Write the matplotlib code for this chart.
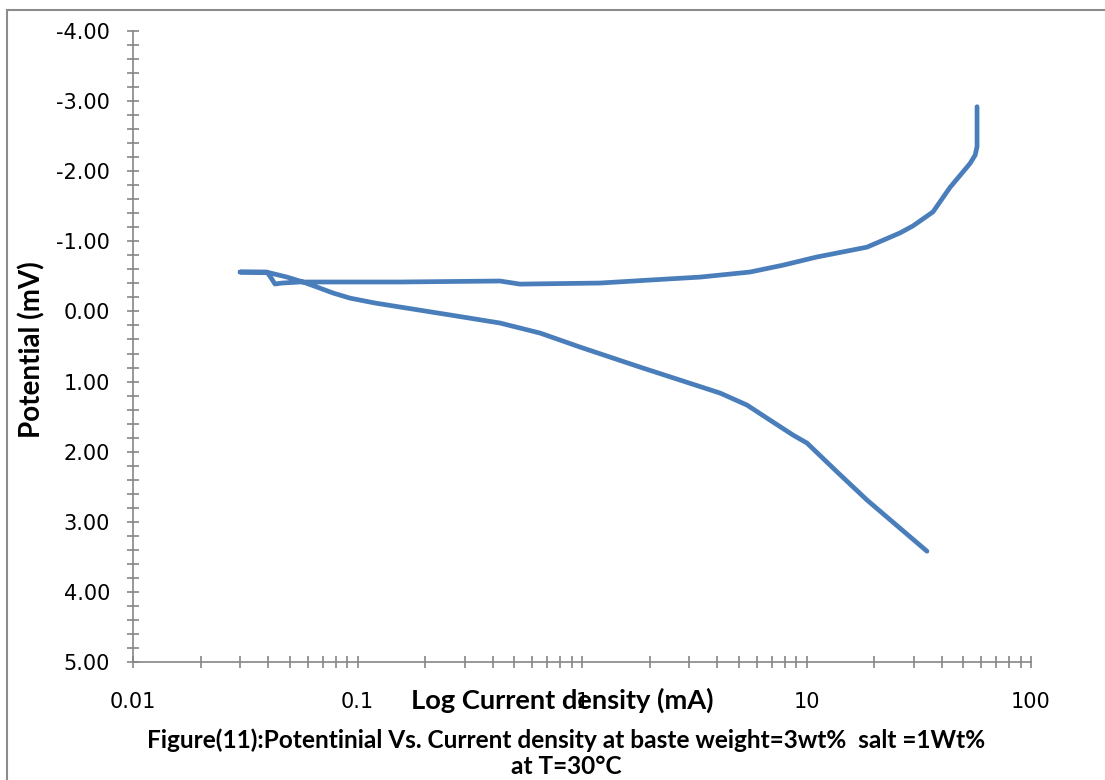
import matplotlib
matplotlib.use('Agg')
import matplotlib.pyplot as plt
from matplotlib.patches import Rectangle
from matplotlib.ticker import FixedLocator, FuncFormatter, LogLocator, NullFormatter

# Polarization curve, traced from the cathodic end (top right) to the anodic end
current = [57.5, 57.5, 56.4, 53.5, 43.6, 36.6, 29.8, 26.1, 18.6, 11.1, 7.86,
           5.6, 3.36, 2.01, 1.20, 0.529, 0.431, 0.1547, 0.0554, 0.0461,
           0.0429, 0.0407, 0.0395, 0.030, 0.0395, 0.0485, 0.0572, 0.066,
           0.0778, 0.0926, 0.1197, 0.1547, 0.258, 0.431, 0.65, 0.98, 1.81,
           4.12, 5.43, 6.88, 8.71, 10.05, 13.7, 18.6, 34.4]
potential = [-2.92, -2.35, -2.23, -2.11, -1.77, -1.42, -1.22, -1.12, -0.917,
             -0.776, -0.66, -0.562, -0.49, -0.448, -0.405, -0.39, -0.434,
             -0.42, -0.42, -0.405, -0.391, -0.505, -0.56, -0.562, -0.56,
             -0.49, -0.42, -0.348, -0.263, -0.19, -0.12, -0.063, 0.05, 0.165,
             0.308, 0.508, 0.793, 1.164, 1.335, 1.55, 1.763, 1.877, 2.29,
             2.69, 3.42]

y_ticks = [-4, -3, -2, -1, 0, 1, 2, 3, 4, 5]
x_ticks = [0.01, 0.1, 1, 10, 100]
x_tick_labels = ['0.01', '0.1', '1', '10', '100']

line_color = '#4A7EBB'
axis_color = '#868686'
label_font = dict(family=['Lato', 'DejaVu Sans'], fontweight='bold')

fig = plt.figure(figsize=(11.05, 7.8), dpi=100)
ax = fig.add_axes([133 / 1105, 118 / 780, 898 / 1105, 631 / 780])

ax.plot(current, potential, color=line_color, linewidth=3.4,
        solid_capstyle='round', solid_joinstyle='round')

ax.set_xscale('log')
ax.set_xlim(0.01, 100)
ax.set_ylim(5, -4)

ax.xaxis.set_major_locator(FixedLocator(x_ticks))
ax.xaxis.set_major_formatter(FuncFormatter(lambda v, p: x_tick_labels[x_ticks.index(v)] if v in x_ticks else ''))
ax.xaxis.set_minor_locator(LogLocator(base=10, subs=range(2, 10)))
ax.xaxis.set_minor_formatter(NullFormatter())

ax.yaxis.set_major_locator(FixedLocator(y_ticks))
ax.yaxis.set_major_formatter(FuncFormatter(lambda v, p: f'{v:.2f}'))
ax.yaxis.set_minor_locator(FixedLocator([t / 5 for t in range(-20, 26)]))

for side in ['top', 'right']:
    ax.spines[side].set_visible(False)
for side in ['left', 'bottom']:
    ax.spines[side].set_color(axis_color)
    ax.spines[side].set_linewidth(1.2)

ax.tick_params(which='major', direction='inout', length=9, width=1.2, color=axis_color,
               labelsize=15, labelcolor='black')
ax.tick_params(which='minor', direction='inout', length=8, width=1.2, color=axis_color)
ax.tick_params(axis='y', which='major', pad=12)
ax.tick_params(axis='x', which='major', pad=17)

ax.text(0.478, -0.06, 'Log Current density (mA)', transform=ax.transAxes,
        ha='center', va='center', fontsize=19.6, **label_font)
fig.text(32 / 1105, 1 - 350 / 780, 'Potential (mV)', rotation=90,
         ha='center', va='center', fontsize=20, **label_font)

fig.text(566 / 1105, 1 - 740 / 780,
         'Figure(11):Potentinial Vs. Current density at baste weight=3wt%  salt =1Wt%',
         ha='center', va='center', fontsize=17.6, **label_font)
fig.text(566 / 1105, 1 - 766 / 780, 'at T=30°C',
         ha='center', va='center', fontsize=17.6, **label_font)

# chart frame
fig.add_artist(Rectangle((7 / 1105, -0.05), 1.2, 1.05 - 10 / 780, transform=fig.transFigure,
                         fill=False, edgecolor='#8c8c8c', linewidth=1.5))

fig.savefig('out.png', dpi=100)
